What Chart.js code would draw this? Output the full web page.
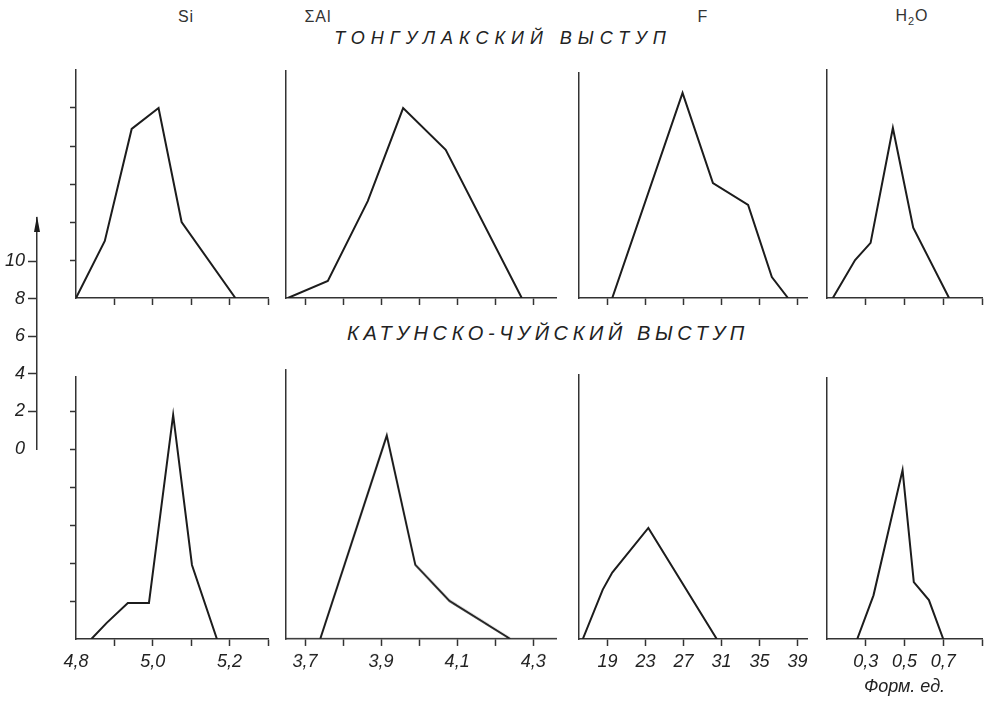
<!DOCTYPE html>
<html>
<head>
<meta charset="utf-8">
<script src="https://cdn.jsdelivr.net/npm/chart.js@4.4.0/dist/chart.umd.min.js"></script>
<style>
  body { margin: 0; background: #fff; width: 992px; height: 701px; position: relative; overflow: hidden;
         font-family: "Liberation Sans", Arial, sans-serif; color: #222; }
  canvas { position: absolute; }
  .t { position: absolute; transform: translate(-50%, -50%); white-space: nowrap; }
  .col { font-size: 16px; color: #333; letter-spacing: 1px; }
  .row { font-style: italic; }
</style>
</head>
<body>
<div class="t col" style="left:186px;top:17px">Si</div>
<div class="t col" style="left:318px;top:17px">ΣAl</div>
<div class="t col" style="left:703px;top:17px">F</div>
<div class="t col" style="left:912px;top:17px">H<sub style="font-size:11px">2</sub>O</div>
<div class="t row" style="left:503px;top:38px;font-size:18px;letter-spacing:6px">ТОНГУЛАКСКИЙ ВЫСТУП</div>
<div class="t row" style="left:548px;top:333px;font-size:20px;letter-spacing:4.6px">КАТУНСКО-ЧУЙСКИЙ ВЫСТУП</div>

<script>
// Тонгулакский выступ (top row)
const siTopX = [4.80, 4.875, 4.945, 5.015, 5.075, 5.215];
const siTopY = [0, 3.0, 8.9, 10.0, 4.0, 0];
const alTopX = [3.655, 3.76, 3.865, 3.958, 4.07, 4.27];
const alTopY = [0, 0.9, 5.1, 10.0, 7.8, 0];
const fTopX = [19.5, 26.9, 30.1, 33.8, 36.3, 38.0];
const fTopY = [0, 10.8, 6.05, 4.9, 1.1, 0];
const h2oTopX = [0.13, 0.245, 0.325, 0.44, 0.545, 0.73];
const h2oTopY = [0, 2.0, 2.9, 8.95, 3.7, 0];

// Катунско-Чуйский выступ (bottom row)
const siBotX = [4.84, 4.88, 4.935, 4.99, 5.053, 5.102, 5.167];
const siBotY = [0, 0.85, 1.9, 1.9, 11.8, 3.9, 0];
const alBotX = [3.74, 3.915, 3.99, 4.08, 4.24];
const alBotY = [0, 10.7, 3.9, 2.0, 0];
const fBotX = [16.4, 18.5, 19.5, 23.3, 30.5];
const fBotY = [0, 2.6, 3.5, 5.85, 0];
const h2oBotX = [0.256, 0.34, 0.49, 0.548, 0.626, 0.70];
const h2oBotY = [0, 2.3, 8.9, 3.0, 2.05, 0];

// ticks and tick labels
const siTicks = [4.9, 5.0, 5.1, 5.2, 5.3];
const siLabels = [4.8, 5.0, 5.2];
const alTicks = [3.7, 3.8, 3.9, 4.0, 4.1, 4.2, 4.3];
const alLabels = [3.7, 3.9, 4.1, 4.3];
const fTicks = [19, 23, 27, 31, 35, 39];
const fLabels = [19, 23, 27, 31, 35, 39];
const h2oTicks = [0.3, 0.5, 0.7, 0.9];
const h2oLabels = [0.3, 0.5, 0.7];
const countTicks = [2, 4, 6, 8, 10, 12];
const scaleTicks = [0, 2, 4, 6, 8, 10];

const INK = '#1c1c1c', AXIS = '#333';
const labelFont = { family: 'Liberation Sans', style: 'italic', size: 18 };
const near = (a, b) => Math.abs(a - b) < 1e-6;

function addCanvas(left, top, w, h) {
  const c = document.createElement('canvas');
  c.width = w; c.height = h;
  c.style.left = left + 'px'; c.style.top = top + 'px';
  c.style.width = w + 'px'; c.style.height = h + 'px';
  document.body.appendChild(c);
  return c;
}

function panel(p) {
  const w = p.x1 - p.x0 + 20 + 15;
  const h = p.base - p.y0 + 5 + p.bottomH;
  const c = addCanvas(p.x0 - 20, p.y0 - 5, w, h);
  const allTicks = [...new Set([...p.ticks, ...p.labels])].sort((a, b) => a - b);
  const yTicks = countTicks.filter(v => v < p.yMax - 0.5);
  new Chart(c, {
    type: 'line',
    data: {
      datasets: [{
        data: p.xs.map((x, i) => ({ x: x, y: p.ys[i] })),
        borderColor: INK, borderWidth: 2, pointRadius: 0, tension: 0, fill: false
      }]
    },
    options: {
      responsive: false, animation: false, events: [],
      layout: { padding: { top: 5, right: 15, left: 0, bottom: 0 } },
      plugins: { legend: { display: false }, tooltip: { enabled: false } },
      scales: {
        x: {
          type: 'linear', min: p.xMin, max: p.xMax,
          afterBuildTicks: s => { s.ticks = allTicks.map(v => ({ value: v })); },
          afterFit: s => { s.height = p.bottomH; s.paddingLeft = 0; s.paddingRight = 0; },
          ticks: {
            autoSkip: false, maxRotation: 0, padding: 5, color: '#222', font: labelFont,
            callback: v => (p.showLabels && p.labels.some(l => near(l, v))) ? v.toFixed(p.dec).replace('.', ',') : ''
          },
          grid: {
            drawOnChartArea: false, tickLength: 7, tickWidth: 1.5,
            tickColor: ctx => p.ticks.some(t => near(t, ctx.tick.value)) ? AXIS : 'transparent'
          },
          border: { color: AXIS, width: 1.5 },
          title: p.title ? {
            display: true, text: p.title, padding: 0, color: '#222',
            font: { family: 'Liberation Sans', style: 'italic', size: 18 }
          } : { display: false }
        },
        y: {
          type: 'linear', min: 0, max: p.yMax,
          afterBuildTicks: s => { s.ticks = yTicks.map(v => ({ value: v })); },
          afterFit: s => { s.width = 20; s.paddingTop = 0; s.paddingBottom = 0; },
          ticks: { display: false },
          grid: { drawOnChartArea: false, tickLength: 6, tickWidth: 1.5, tickColor: p.showY ? AXIS : 'transparent' },
          border: { color: AXIS, width: 1.5 }
        }
      }
    }
  });
}

// column geometry (chart area in page pixels)
const cols = [
  { x0: 76, x1: 268, xMin: 4.8, xMax: 5.3, ticks: siTicks, labels: siLabels, dec: 1 },
  { x0: 286, x1: 556, xMin: 3.65, xMax: 4.36, ticks: alTicks, labels: alLabels, dec: 1 },
  { x0: 579, x1: 807, xMin: 16, xMax: 40, ticks: fTicks, labels: fLabels, dec: 0 },
  { x0: 827, x1: 982, xMin: 0.1, xMax: 0.9, ticks: h2oTicks, labels: h2oLabels, dec: 1 }
];
const topData = [[siTopX, siTopY], [alTopX, alTopY], [fTopX, fTopY], [h2oTopX, h2oTopY]];
const botData = [[siBotX, siBotY], [alBotX, alBotY], [fBotX, fBotY], [h2oBotX, h2oBotY]];
const topMax = [12, 11.95, 11.85, 12];
const botMax = [13.8, 14.15, 13.9, 13.75];

cols.forEach((col, i) => {
  panel(Object.assign({}, col, {
    xs: topData[i][0], ys: topData[i][1], yMax: topMax[i],
    base: 298, y0: 298 - topMax[i] * 19, bottomH: 12, showY: i === 0, showLabels: false
  }));
  panel(Object.assign({}, col, {
    xs: botData[i][0], ys: botData[i][1], yMax: botMax[i],
    base: 639, y0: 639 - botMax[i] * 19, bottomH: i === 3 ? 59 : 45, showY: i === 0, showLabels: true,
    title: i === 3 ? 'Форм. ед.' : null
  }));
});

// scale bar on the left
const arrowPlugin = {
  id: 'arrow',
  afterDraw(chart) {
    const ctx = chart.ctx, x = chart.chartArea.left, y = chart.chartArea.top;
    ctx.save();
    ctx.fillStyle = INK;
    ctx.beginPath();
    ctx.moveTo(x, y - 2);
    ctx.lineTo(x - 3, y + 14);
    ctx.lineTo(x + 3, y + 14);
    ctx.closePath();
    ctx.fill();
    ctx.restore();
  }
};
const sc = addCanvas(0, 200, 45, 269);
new Chart(sc, {
  type: 'line',
  data: { datasets: [{ data: [] }] },
  plugins: [arrowPlugin],
  options: {
    responsive: false, animation: false, events: [],
    layout: { padding: { top: 18, right: 3, left: 0, bottom: 20 } },
    plugins: { legend: { display: false }, tooltip: { enabled: false } },
    scales: {
      x: { type: 'linear', display: false, min: 0, max: 1 },
      y: {
        type: 'linear', min: 0, max: 12.3,
        afterBuildTicks: s => { s.ticks = scaleTicks.map(v => ({ value: v })); },
        afterFit: s => { s.width = 37; s.paddingTop = 0; s.paddingBottom = 0; },
        ticks: { padding: 3, color: '#222', font: labelFont, callback: v => String(v) },
        grid: {
          drawOnChartArea: false, tickLength: 9, tickWidth: 1.5,
          tickColor: ctx => ctx.tick.value === 0 ? 'transparent' : AXIS
        },
        border: { color: AXIS, width: 1.5 }
      }
    }
  }
});
</script>
</body>
</html>
